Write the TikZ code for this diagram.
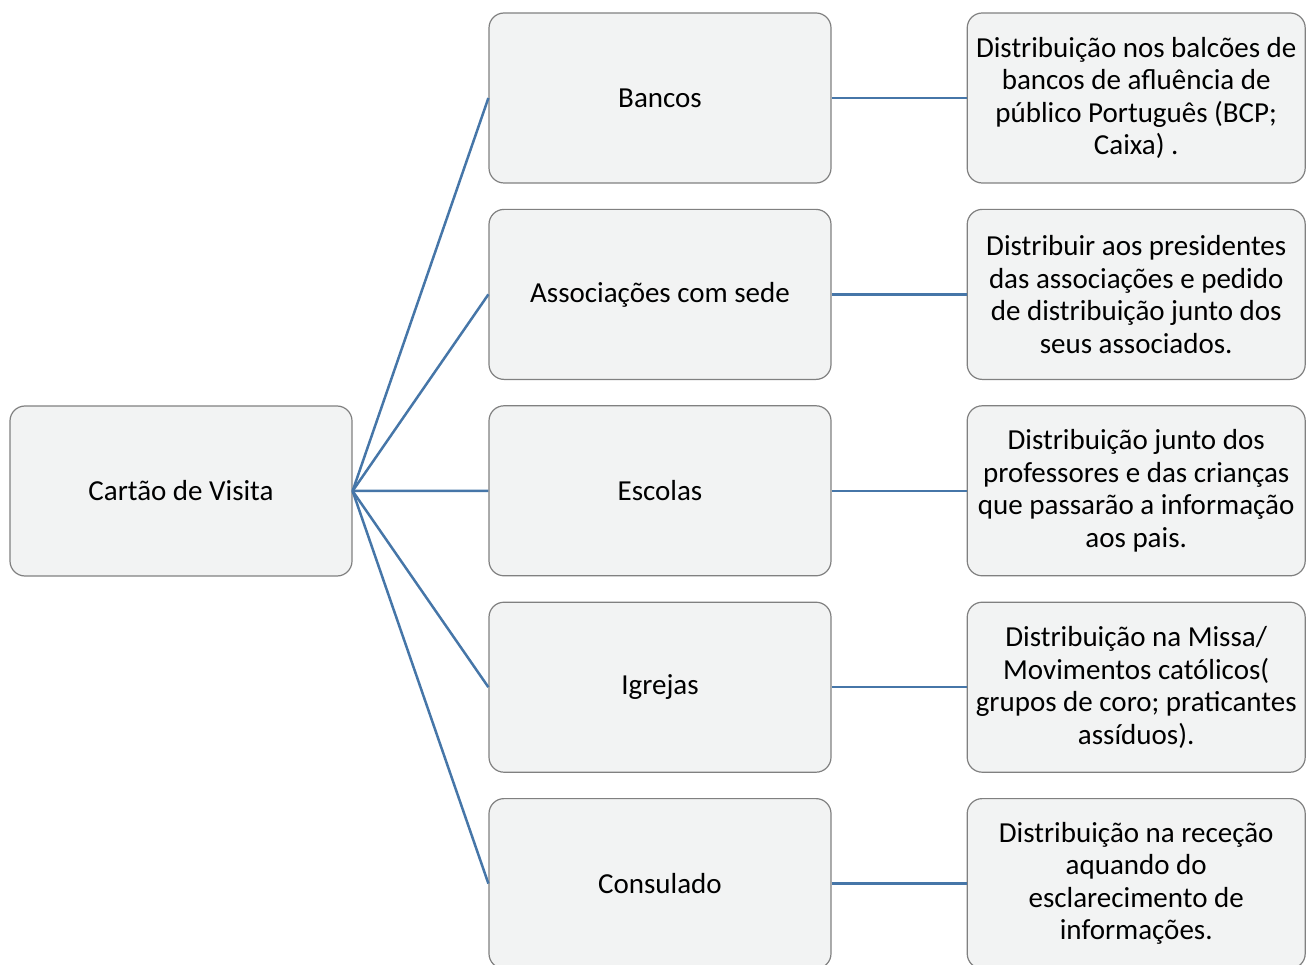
\documentclass[tikz,border=0pt]{standalone}
\usepackage{fontspec}
\setmainfont{Carlito}
\usetikzlibrary{positioning}
\definecolor{boxfill}{RGB}{242,243,243}
\definecolor{boxline}{RGB}{128,128,128}
\definecolor{linkblue}{RGB}{70,118,168}
\begin{document}
\begin{tikzpicture}[x=1pt, y=-1pt, every node/.style={font=\fontsize{29}{32.5}\selectfont}, box/.style={draw=boxline, fill=boxfill, rounded corners=15pt, align=center, minimum width=342pt, minimum height=170pt, line width=1.2pt}, infobox/.style={box, minimum width=338pt, inner sep=2pt}, link/.style={draw=linkblue, line width=2.5pt}]
\useasboundingbox (0,0) rectangle (1306,965);
\node[box] (root) at (181,491) {Cartão de Visita};
\node[box] (bancos) at (660,98) {Bancos};
\node[box, below=25.2pt of bancos] (assoc) {Associações com sede};
\node[box, below=25.2pt of assoc] (escolas) {Escolas};
\node[box, below=25.2pt of escolas] (igrejas) {Igrejas};
\node[box, below=25.2pt of igrejas] (consulado) {Consulado};
\node[infobox, right=135pt of bancos] (bancosinfo) {Distribuição nos balcões de\\bancos de afluência de\\público Português (BCP;\\Caixa) .};
\node[infobox, right=135pt of assoc] (associnfo) {Distribuir aos presidentes\\das associações e pedido\\de distribuição junto dos\\seus associados.};
\node[infobox, right=135pt of escolas] (escolasinfo) {Distribuição junto dos\\professores e das crianças\\que passarão a informação\\aos pais.};
\node[infobox, right=135pt of igrejas] (igrejasinfo) {Distribuição na Missa/\\Movimentos católicos(\\grupos de coro; praticantes\\assíduos).};
\node[infobox, right=135pt of consulado] (consuladoinfo) {Distribuição na receção\\aquando do\\esclarecimento de\\informações.};
\foreach \n in {bancos,assoc,escolas,igrejas,consulado} {
  \draw[link] (root.east) -- (\n.west);
  \draw[link] (\n.east) -- (\n info.west);
}
\end{tikzpicture}
\end{document}
